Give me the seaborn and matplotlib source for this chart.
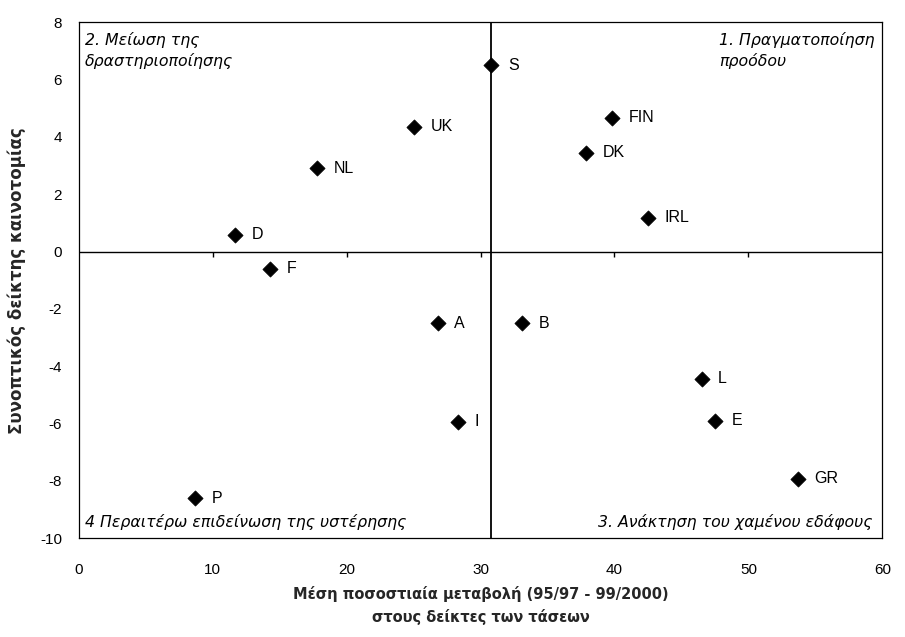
import matplotlib
matplotlib.use("Agg")
import matplotlib.pyplot as plt
import seaborn as sns
import pandas as pd

# ---- data ----
countries = ["S", "FIN", "DK", "IRL", "UK", "NL", "D", "F", "A", "B", "I", "L", "E", "GR", "P"]
trend_change = [30.8, 39.8, 37.9, 42.5, 25.0, 17.8, 11.7, 14.3, 26.8, 33.1, 28.3, 46.5, 47.5, 53.7, 8.7]
innovation_index = [6.5, 4.67, 3.45, 1.19, 4.36, 2.9, 0.59, -0.6, -2.5, -2.5, -5.93, -4.43, -5.9, -7.92, -8.6]
x_ticks = [0, 10, 20, 30, 40, 50, 60]
y_ticks = [8, 6, 4, 2, 0, -2, -4, -6, -8, -10]
x_divider = 30.8
y_divider = 0

quadrant_labels = [
    "2. Μείωση της\nδραστηριοποίησης",
    "1. Πραγματοποίηση\nπροόδου",
    "4 Περαιτέρω επιδείνωση της υστέρησης",
    "3. Ανάκτηση του χαμένου εδάφους",
]
x_label = "Μέση ποσοστιαία μεταβολή (95/97 - 99/2000)\nστους δείκτες των τάσεων"
y_label = "Συνοπτικός δείκτης καινοτομίας"

df = pd.DataFrame({"country": countries, "x": trend_change, "y": innovation_index})

sns.set_theme(style="white")
plt.rcParams["font.family"] = ["Liberation Sans", "DejaVu Sans"]
plt.rcParams["axes.unicode_minus"] = False

fig = plt.figure(figsize=(9.05, 6.37), dpi=100)
ax = fig.add_axes([0.087, 0.155, 0.888, 0.81])

ax.axvline(x_divider, color="black", lw=1.3, zorder=1)
ax.axhline(y_divider, color="black", lw=1.0, zorder=1)
# small ticks on the zero line
ax.vlines(x_ticks[1:-1], y_divider - 0.18, y_divider, color="black", lw=1.0, zorder=1)

sns.scatterplot(data=df, x="x", y="y", marker="D", s=60, color="black",
                edgecolor="black", linewidth=0.5, ax=ax, zorder=3, legend=False)

for c, xv, yv in zip(countries, trend_change, innovation_index):
    ax.annotate(c, (xv, yv), xytext=(12, 0), textcoords="offset points",
                ha="left", va="center", fontsize=11.5, color="black")

ax.set_xlim(0, 60)
ax.set_ylim(-10, 8)
ax.set_xticks(x_ticks)
ax.set_yticks(y_ticks)
ax.tick_params(axis="both", length=0, labelsize=11, colors="black")
ax.tick_params(axis="x", pad=18)
ax.tick_params(axis="y", pad=12)

for s in ax.spines.values():
    s.set_color("black")
    s.set_linewidth(0.9)
    s.set_linestyle((0, (5, 1)))

qfont = dict(family=["DejaVu Sans"], style="italic", fontsize=11.3, color="black")
ax.text(0.008, 0.982, quadrant_labels[0], transform=ax.transAxes, ha="left", va="top",
        linespacing=1.45, **qfont)
ax.text(0.99, 0.982, quadrant_labels[1], transform=ax.transAxes, ha="right", va="top",
        multialignment="left", linespacing=1.45, **qfont)
ax.text(0.008, 0.031, quadrant_labels[2], transform=ax.transAxes, ha="left", va="center",
        **qfont)
ax.text(0.988, 0.031, quadrant_labels[3], transform=ax.transAxes, ha="right", va="center",
        **qfont)

ax.set_xlabel(x_label, fontsize=10.5, fontweight="bold", family=["DejaVu Sans"],
              labelpad=6, linespacing=1.55)
ax.set_ylabel(y_label, fontsize=12, fontweight="bold", family=["DejaVu Sans"], labelpad=10)

fig.savefig("out.png", dpi=100)
